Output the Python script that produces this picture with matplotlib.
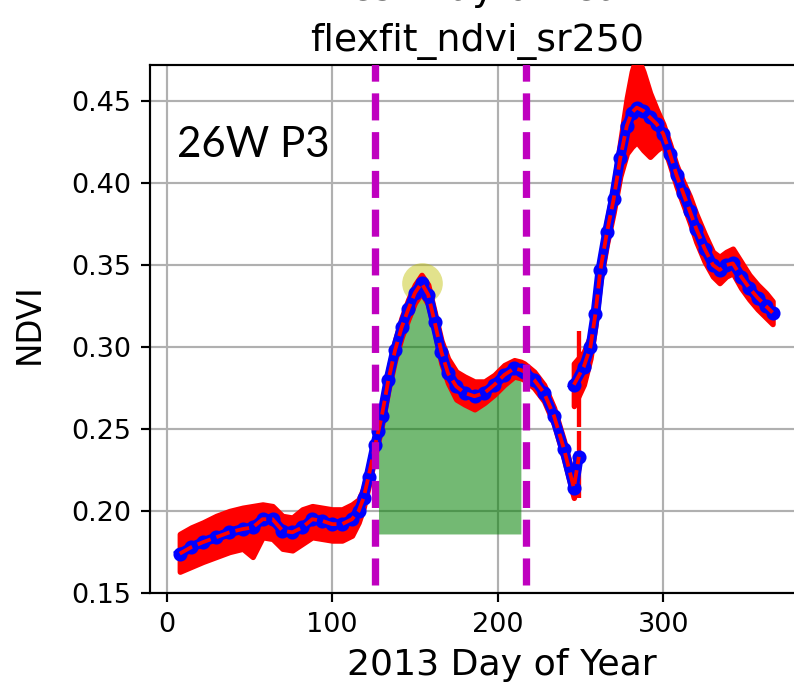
import numpy as np
import matplotlib
matplotlib.use("Agg")
import matplotlib.pyplot as plt

# ---- data -------------------------------------------------------------
# first growing-season fit (day of year, NDVI) with the red spread band
doy_s1 = np.array([8, 15, 22, 30, 38, 46, 52, 58, 64, 70, 76, 82, 88, 94, 100,
                   106, 112, 116, 119, 122, 126, 128, 130, 134, 138, 142, 146,
                   150, 154, 158, 162, 166, 170, 175, 180, 186, 192, 198, 204,
                   210, 214, 216, 222, 228, 234, 240, 246, 249])
ndvi_s1 = np.array([0.174, 0.178, 0.181, 0.184, 0.187, 0.189, 0.190, 0.195,
                    0.195, 0.188, 0.187, 0.190, 0.195, 0.194, 0.192, 0.192,
                    0.195, 0.200, 0.208, 0.221, 0.240, 0.249, 0.258, 0.280,
                    0.298, 0.312, 0.323, 0.333, 0.339, 0.332, 0.315, 0.297,
                    0.284, 0.276, 0.272, 0.270, 0.272, 0.277, 0.283, 0.287,
                    0.286, 0.285, 0.280, 0.272, 0.258, 0.238, 0.214, 0.233])
upper_s1 = np.array([0.186, 0.190, 0.193, 0.197, 0.200, 0.202, 0.203, 0.204,
                     0.203, 0.197, 0.196, 0.201, 0.203, 0.202, 0.201, 0.201,
                     0.204, 0.207, 0.214, 0.227, 0.246, 0.255, 0.264, 0.286,
                     0.304, 0.318, 0.329, 0.338, 0.344, 0.338, 0.321, 0.304,
                     0.293, 0.285, 0.282, 0.279, 0.279, 0.283, 0.289, 0.292,
                     0.291, 0.290, 0.285, 0.277, 0.263, 0.243, 0.219, 0.236])
lower_s1 = np.array([0.163, 0.166, 0.169, 0.172, 0.175, 0.177, 0.172, 0.184,
                     0.183, 0.177, 0.176, 0.180, 0.184, 0.183, 0.182, 0.182,
                     0.185, 0.193, 0.202, 0.215, 0.234, 0.243, 0.252, 0.274,
                     0.292, 0.306, 0.317, 0.327, 0.333, 0.326, 0.309, 0.290,
                     0.278, 0.268, 0.265, 0.262, 0.266, 0.271, 0.277, 0.282,
                     0.281, 0.280, 0.275, 0.267, 0.253, 0.232, 0.208, 0.229])

# second growing-season fit
doy_s2 = np.array([246, 252, 256, 259, 262, 266, 270, 274, 278, 281, 284, 288,
                   292, 296, 300, 304, 308, 312, 316, 320, 325, 330, 334, 338,
                   342, 347, 352, 357, 362, 366])
ndvi_s2 = np.array([0.277, 0.288, 0.300, 0.320, 0.347, 0.370, 0.390, 0.415,
                    0.435, 0.443, 0.446, 0.444, 0.440, 0.436, 0.430, 0.418,
                    0.405, 0.394, 0.383, 0.372, 0.360, 0.350, 0.347, 0.350,
                    0.351, 0.343, 0.336, 0.330, 0.325, 0.321])
upper_s2 = np.array([0.290, 0.297, 0.307, 0.327, 0.354, 0.377, 0.398, 0.425,
                     0.452, 0.468, 0.478, 0.468, 0.455, 0.445, 0.436, 0.424,
                     0.411, 0.401, 0.392, 0.381, 0.369, 0.358, 0.355, 0.358,
                     0.360, 0.352, 0.344, 0.338, 0.333, 0.328])
lower_s2 = np.array([0.264, 0.277, 0.293, 0.313, 0.340, 0.363, 0.382, 0.404,
                     0.418, 0.422, 0.425, 0.420, 0.416, 0.420, 0.423, 0.411,
                     0.398, 0.387, 0.376, 0.364, 0.352, 0.343, 0.339, 0.343,
                     0.345, 0.336, 0.329, 0.323, 0.318, 0.314])

# isolated spread at the season break
break_doy = [249, 249]
break_lo = [0.208, 0.251]
break_hi = [0.249, 0.310]

season_start, season_end = 126, 217     # dashed season bounds
fill_start, fill_end = 128, 214         # integrated window
fill_base = 0.186
peak_doy, peak_ndvi = 154, 0.339

xticks = [0, 100, 200, 300]
yticks = [0.15, 0.20, 0.25, 0.30, 0.35, 0.40, 0.45]

# ---- figure -----------------------------------------------------------
DPI = 195
fig = plt.figure(figsize=(794 / DPI, 687 / DPI), dpi=DPI)
ax = fig.add_axes([150 / 794, 94 / 687, 654 / 794, 528 / 687])

ax.grid(True, color="#b0b0b0", lw=0.8, zorder=0)
ax.set_axisbelow(True)

# integrated area between season bounds
m = (doy_s1 >= fill_start) & (doy_s1 <= fill_end)
ax.fill_between(doy_s1[m], fill_base, ndvi_s1[m], color="green", alpha=0.55,
                lw=0, zorder=1)

# peak marker
ax.plot([peak_doy], [peak_ndvi], "o", color="y", alpha=0.45, ms=15, mew=0,
        zorder=2)

for d, v, u, l in [(doy_s1, ndvi_s1, upper_s1, lower_s1),
                   (doy_s2, ndvi_s2, upper_s2, lower_s2)]:
    ax.fill_between(d, l, u, color="red", lw=2.0, edgecolor="red", zorder=3)
    ax.plot(d, v, "-o", color="blue", lw=3.6, ms=4.2, zorder=4)
    ax.plot(d, v, "--", color="red", lw=1.4, zorder=5)

ax.vlines(break_doy, break_lo, break_hi, color="red", lw=1.6, zorder=3)

ax.vlines([season_start, season_end], 0.155, 0.48, colors="m", lw=2.7,
          linestyles="--", zorder=6)

ax.set_xlim(-10, 385)
ax.set_ylim(0.15, 0.472)
ax.set_xticks(xticks)
ax.set_yticks(yticks)
ax.set_yticklabels([f"{t:.2f}" for t in yticks])
ax.tick_params(labelsize=10, width=0.8, length=3.5)
for s in ax.spines.values():
    s.set_linewidth(0.8)

ax.set_xlabel("2013 Day of Year", fontsize=13.4)
ax.xaxis.set_label_coords(0.538, -0.105)
ax.set_ylabel("NDVI", fontsize=12)
ax.yaxis.set_label_coords(-0.160, 0.51)
ax.set_title("flexfit_ndvi_sr250", fontsize=14, pad=5)
fig.text(0.505 * 654 / 794 + 150 / 794, 1.0, "Best Day of Year",
         fontsize=14, ha="center", va="baseline")

ax.text(6.6, 0.416, "26W P3", fontsize=15.5, family=["Lato", "DejaVu Sans"],
        va="baseline", ha="left", zorder=7)

fig.savefig("out.png", dpi=DPI)
